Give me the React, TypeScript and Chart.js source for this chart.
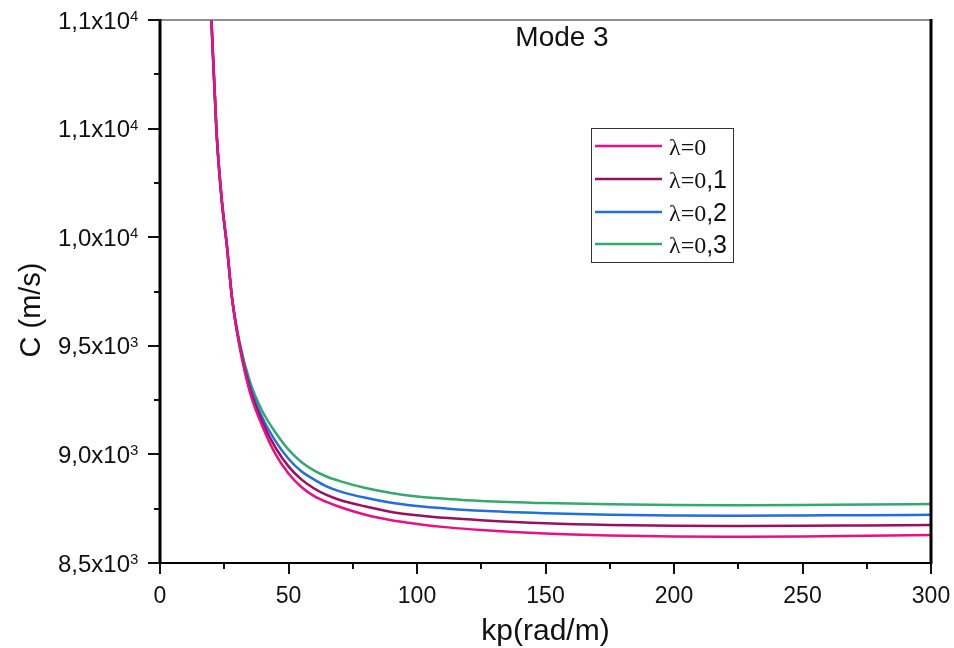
import React, { useEffect, useRef } from "react";
import { Chart, registerables } from "chart.js";

Chart.register(...registerables);

// Wavenumber kp (rad/m)
const kp = [19, 20, 22, 24, 26, 28, 31, 35, 40, 45, 50, 55, 60, 65, 70, 80, 90, 100, 112, 125, 150, 175, 200, 225, 250, 275, 300];

// Phase velocity C (m/s) for each λ
const cLambda0 = [11290, 11015, 10492, 10180, 9968, 9722, 9495, 9285, 9125, 9000, 8912, 8850, 8808, 8780, 8758, 8722, 8697, 8680, 8664, 8652, 8636, 8627, 8622, 8621, 8622, 8625, 8629];
const cLambda01 = [11280, 11005, 10485, 10175, 9965, 9722, 9500, 9300, 9145, 9030, 8945, 8885, 8843, 8812, 8790, 8760, 8735, 8720, 8707, 8697, 8683, 8675, 8671, 8670, 8671, 8673, 8675];
const cLambda02 = [11275, 11000, 10480, 10172, 9962, 9722, 9505, 9315, 9165, 9060, 8980, 8922, 8884, 8852, 8830, 8800, 8777, 8762, 8750, 8740, 8729, 8722, 8719, 8718, 8719, 8720, 8722];
const cLambda03 = [11265, 10990, 10475, 10170, 9960, 9725, 9515, 9335, 9195, 9100, 9022, 8965, 8925, 8897, 8877, 8845, 8822, 8806, 8795, 8786, 8776, 8770, 8767, 8766, 8767, 8769, 8772];

const seriesNames = ["0", "0,1", "0,2", "0,3"];
const seriesColors = ["#ea0f86", "#9a0f5e", "#1f6fdc", "#33aa6c"];

// Axis ticks
const xMajorTicks = [0, 50, 100, 150, 200, 250, 300];
const xMinorTicks = [25, 75, 125, 175, 225, 275];
const xTickLabels = ["0", "50", "100", "150", "200", "250", "300"];
const yMajorTicks = [8500, 9000, 9500, 10000, 10500, 11000];
const yMinorTicks = [8750, 9250, 9750, 10250, 10750];
const yTickMantissas = ["8,5x10", "9,0x10", "9,5x10", "1,0x10", "1,1x10", "1,1x10"];
const yTickExponents = ["3", "3", "3", "4", "4", "4"];

const chartTitle = "Mode 3";
const xTitle = "kp(rad/m)";
const yTitle = "C (m/s)";

const SANS = '"Liberation Sans", Arial, Helvetica, sans-serif';
const SERIF = '"Liberation Serif", "Times New Roman", serif';

const decorPlugin = {
  id: "decor",
  afterDraw(chart: any) {
    const ctx: CanvasRenderingContext2D = chart.ctx;
    const xs = chart.scales.x;
    const ys = chart.scales.y;
    const { left, right, top, bottom } = chart.chartArea;
    ctx.save();

    // frame: thin top line, heavy left/right/bottom lines
    ctx.strokeStyle = "#6a6a6a";
    ctx.lineWidth = 1.5;
    ctx.beginPath();
    ctx.moveTo(left, top);
    ctx.lineTo(right, top);
    ctx.stroke();

    ctx.strokeStyle = "#000";
    ctx.lineWidth = 3;
    ctx.beginPath();
    ctx.moveTo(left, top - 1);
    ctx.lineTo(left, bottom + 1);
    ctx.moveTo(right, top - 1);
    ctx.lineTo(right, bottom + 1);
    ctx.stroke();
    ctx.lineWidth = 2;
    ctx.beginPath();
    ctx.moveTo(left, bottom);
    ctx.lineTo(right + 1, bottom);
    ctx.stroke();

    // y ticks
    ctx.lineWidth = 2;
    ctx.strokeStyle = "#111";
    ctx.beginPath();
    yMajorTicks.forEach((v) => {
      const y = Math.round(ys.getPixelForValue(v));
      ctx.moveTo(left - 12, y);
      ctx.lineTo(left, y);
    });
    yMinorTicks.forEach((v) => {
      const y = Math.round(ys.getPixelForValue(v));
      ctx.moveTo(left - 6, y);
      ctx.lineTo(left, y);
    });
    // x ticks
    xMajorTicks.forEach((v) => {
      const x = Math.round(xs.getPixelForValue(v));
      ctx.moveTo(x, bottom);
      ctx.lineTo(x, bottom + 11);
    });
    xMinorTicks.forEach((v) => {
      const x = Math.round(xs.getPixelForValue(v));
      ctx.moveTo(x, bottom);
      ctx.lineTo(x, bottom + 6);
    });
    ctx.stroke();

    ctx.fillStyle = "#111";
    // y tick labels with superscript exponents
    yMajorTicks.forEach((v, i) => {
      const y = ys.getPixelForValue(v);
      ctx.font = `24px ${SANS}`;
      ctx.textAlign = "right";
      ctx.textBaseline = "middle";
      ctx.fillText(yTickMantissas[i], 130, y + 2);
      ctx.font = `15px ${SANS}`;
      ctx.textAlign = "left";
      ctx.textBaseline = "alphabetic";
      ctx.fillText(yTickExponents[i], 130, y + 1);
    });

    // x tick labels
    ctx.font = `23px ${SANS}`;
    ctx.textAlign = "center";
    ctx.textBaseline = "alphabetic";
    xMajorTicks.forEach((v, i) => {
      ctx.fillText(xTickLabels[i], xs.getPixelForValue(v), 603);
    });

    // axis titles
    ctx.font = `30px ${SANS}`;
    ctx.textAlign = "center";
    ctx.fillText(xTitle, (left + right) / 2, 640);

    ctx.save();
    ctx.translate(40, 310);
    ctx.rotate(-Math.PI / 2);
    ctx.font = `29px ${SANS}`;
    ctx.textAlign = "center";
    ctx.textBaseline = "alphabetic";
    ctx.fillText(yTitle, 0, 0);
    ctx.restore();

    // panel title
    ctx.font = `28px ${SANS}`;
    ctx.textAlign = "center";
    ctx.fillText(chartTitle, 562, 46);

    // legend box
    ctx.strokeStyle = "#333";
    ctx.lineWidth = 1;
    ctx.strokeRect(591.5, 128.5, 142, 134);
    const rowY = [146, 179, 212, 244];
    seriesNames.forEach((name, i) => {
      const y = rowY[i];
      ctx.strokeStyle = seriesColors[i];
      ctx.lineWidth = 2.5;
      ctx.beginPath();
      ctx.moveTo(595, y);
      ctx.lineTo(662, y);
      ctx.stroke();

      ctx.fillStyle = "#111";
      ctx.textAlign = "left";
      ctx.textBaseline = "alphabetic";
      const base = y + 9;
      ctx.font = `24px ${SERIF}`;
      const head = "\u03bb=0";
      ctx.fillText(head, 669, base);
      const w = ctx.measureText(head).width;
      const rest = name.slice(1);
      if (rest) {
        ctx.font = `25px ${SANS}`;
        ctx.fillText(rest, 669 + w, base);
      }
    });

    ctx.restore();
  },
};

export default function App() {
  const canvasRef = useRef<HTMLCanvasElement | null>(null);

  useEffect(() => {
    if (!canvasRef.current) return;
    const seriesValues = [cLambda0, cLambda01, cLambda02, cLambda03];
    const chart = new Chart(canvasRef.current, {
      type: "line",
      data: {
        datasets: seriesValues.map((vals, i) => ({
          label: "\u03bb=" + seriesNames[i],
          data: kp.map((k, j) => ({ x: k, y: vals[j] })),
          borderColor: seriesColors[i],
          backgroundColor: seriesColors[i],
          borderWidth: 2.5,
          pointRadius: 0,
          cubicInterpolationMode: "monotone" as const,
          fill: false,
        })),
      },
      options: {
        animation: false,
        responsive: false,
        maintainAspectRatio: false,
        layout: { padding: { left: 160, right: 23, top: 20, bottom: 85 } },
        scales: {
          x: { type: "linear", min: 0, max: 300, display: false },
          y: { type: "linear", min: 8500, max: 11000, display: false },
        },
        plugins: {
          legend: { display: false },
          tooltip: { enabled: false },
        },
      },
      plugins: [decorPlugin],
    });
    return () => chart.destroy();
  }, []);

  return (
    <div style={{ position: "absolute", left: 0, top: 0, width: 954, height: 648, background: "#fff" }}>
      <canvas ref={canvasRef} width={954} height={648} style={{ display: "block" }} />
    </div>
  );
}
